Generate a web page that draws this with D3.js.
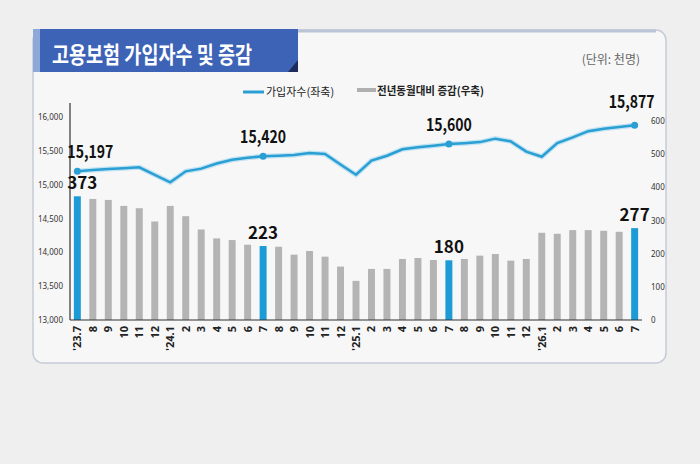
<!DOCTYPE html>
<html>
<head>
<meta charset="utf-8">
<script src="https://cdn.jsdelivr.net/npm/d3@7"></script>
<style>
  body { margin: 0; background: #efefef; }
  svg { display: block; font-family: "Noto Sans CJK KR", "Noto Sans", sans-serif; }
</style>
</head>
<body>
<div id="chart-area"></div>
<script>
// months '23.7 .. '26.7
var months = ["'23.7","8","9","10","11","12","'24.1","2","3","4","5","6","7","8","9","10","11","12",
              "'25.1","2","3","4","5","6","7","8","9","10","11","12","'26.1","2","3","4","5","6","7"];
// 가입자수 (천명, 좌축)
var subscribers = [15197,15217,15232,15242,15257,15146,15035,15197,15237,15312,15368,15398,
                   15420,15428,15439,15469,15454,15297,15146,15357,15428,15523,15553,15575,
                   15600,15613,15629,15680,15640,15489,15413,15614,15700,15790,15826,15851,15877];
// 전년동월대비 증감 (천명, 우축)
var yoyChange = [373,365,362,344,337,297,344,313,273,246,241,227,
                 223,221,197,208,191,161,118,154,154,184,187,181,
                 180,184,194,199,179,184,263,260,271,271,269,266,277];
var highlight = [0, 12, 24, 36];
var leftTicks = [13000,13500,14000,14500,15000,15500,16000];
var rightTicks = [0,100,200,300,400,500,600];

var W = 700, H = 464;
var svg = d3.select('#chart-area').append('svg').attr('width', W).attr('height', H);

svg.append('rect').attr('width', W).attr('height', H).attr('fill', '#efefef');

// panel
svg.append('rect')
  .attr('x', 33).attr('y', 30).attr('width', 633).attr('height', 333)
  .attr('rx', 10)
  .attr('fill', '#f7f7f7')
  .attr('stroke', '#c5ccd8').attr('stroke-width', 1.5);
svg.append('line')
  .attr('x1', 290).attr('x2', 656).attr('y1', 31).attr('y2', 31)
  .attr('stroke', '#b9c4d6').attr('stroke-width', 3);

// title banner
svg.append('rect').attr('x', 33).attr('y', 29).attr('width', 265).attr('height', 43).attr('fill', '#3d63b6');
svg.append('rect').attr('x', 33).attr('y', 29).attr('width', 7).attr('height', 43).attr('fill', '#8ea8da');
svg.append('path').attr('d', 'M288,72 L298,60 L298,72 Z').attr('fill', '#1d2c5a');
svg.append('text')
  .attr('x', 52).attr('y', 63)
  .attr('fill', '#fff').attr('font-size', '23px').attr('font-weight', 'bold')
  .attr('textLength', 200).attr('lengthAdjust', 'spacingAndGlyphs')
  .text('고용보험 가입자수 및 증감');

svg.append('text')
  .attr('x', 640).attr('y', 64).attr('text-anchor', 'end')
  .attr('fill', '#666').attr('font-size', '12px')
  .text('(단위: 천명)');

// legend
svg.append('line').attr('x1', 243).attr('x2', 264).attr('y1', 92).attr('y2', 92)
  .attr('stroke', '#2a9fd4').attr('stroke-width', 3);
svg.append('text').attr('x', 266).attr('y', 96).attr('font-size', '11px').attr('fill', '#222')
  .text('가입자수(좌축)');
svg.append('rect').attr('x', 357).attr('y', 88).attr('width', 19).attr('height', 4).attr('fill', '#b0b0b0');
svg.append('text').attr('x', 377).attr('y', 95).attr('font-size', '11px').attr('fill', '#222')
  .attr('font-weight', 'bold').attr('textLength', 107).attr('lengthAdjust', 'spacingAndGlyphs')
  .text('전년동월대비 증감(우축)');

// scales
var x = d3.scaleBand().domain(d3.range(months.length)).range([70, 642]).paddingInner(0.55).paddingOuter(0.25);
var yL = d3.scaleLinear().domain([13000, 16000]).range([320, 117]);
var yR = d3.scaleLinear().domain([0, 600]).range([320, 121]);
var cx = i => x(i) + x.bandwidth() / 2;

// axes
var leftAxis = svg.append('g').attr('transform', 'translate(68,0)')
  .call(d3.axisLeft(yL).tickValues(leftTicks).tickSize(0).tickPadding(5).tickFormat(d3.format(',')));
leftAxis.select('.domain').remove();
leftAxis.selectAll('text').attr('font-size', '8px').attr('fill', '#333').attr('font-family', '"Noto Sans", sans-serif');

var rightAxis = svg.append('g').attr('transform', 'translate(648,0)')
  .call(d3.axisRight(yR).tickValues(rightTicks).tickSize(0).tickPadding(3));
rightAxis.select('.domain').remove();
rightAxis.selectAll('text').attr('font-size', '8px').attr('fill', '#333').attr('font-family', '"Noto Sans", sans-serif');

// bars
svg.append('g').selectAll('rect').data(yoyChange).enter().append('rect')
  .attr('x', (d, i) => x(i))
  .attr('width', x.bandwidth())
  .attr('y', d => yR(d))
  .attr('height', d => yR(0) - yR(d))
  .attr('fill', (d, i) => highlight.includes(i) ? '#1c9bd7' : '#b4b4b4');

// axis lines
svg.append('line').attr('x1', 70).attr('x2', 70).attr('y1', 103).attr('y2', 320)
  .attr('stroke', '#333').attr('stroke-width', 1.2);
svg.append('line').attr('x1', 70).attr('x2', 642).attr('y1', 320).attr('y2', 320)
  .attr('stroke', '#333').attr('stroke-width', 1.2);

// x labels
svg.append('g').selectAll('text').data(months).enter().append('text')
  .attr('transform', (d, i) => `translate(${cx(i) + 4}, 326) rotate(-90)`)
  .attr('text-anchor', 'end')
  .attr('font-size', '11px').attr('font-weight', 'bold').attr('fill', '#222')
  .attr('font-family', '"Noto Sans", sans-serif')
  .text(d => d);

// line
var line = d3.line().x((d, i) => cx(i)).y(d => yL(d)).curve(d3.curveLinear);
svg.append('path').datum(subscribers)
  .attr('d', line).attr('fill', 'none')
  .attr('stroke', '#9fd6ee').attr('stroke-width', 5).attr('opacity', 0.6);
svg.append('path').datum(subscribers)
  .attr('d', line).attr('fill', 'none')
  .attr('stroke', '#2a9fd4').attr('stroke-width', 2.5);
svg.append('g').selectAll('circle').data(highlight).enter().append('circle')
  .attr('cx', i => cx(i)).attr('cy', i => yL(subscribers[i])).attr('r', 3.5)
  .attr('fill', '#2a9fd4');

// value labels
var fmt = d3.format(',');
svg.append('g').selectAll('text').data(highlight).enter().append('text')
  .attr('x', (i, k) => cx(i) + (k === 0 ? 13 : k === 3 ? -3 : 0))
  .attr('y', (i, k) => yL(subscribers[i]) - (k === 3 ? 17 : 13))
  .attr('text-anchor', 'middle')
  .attr('font-size', '17px').attr('font-weight', 'bold').attr('fill', '#111')
  .attr('textLength', 46).attr('lengthAdjust', 'spacingAndGlyphs')
  .text(i => fmt(subscribers[i]));
svg.append('g').selectAll('text').data(highlight).enter().append('text')
  .attr('x', (i, k) => cx(i) + (k === 0 ? 5 : 0))
  .attr('y', i => yR(yoyChange[i]) - 7)
  .attr('text-anchor', 'middle')
  .attr('font-size', '17px').attr('font-weight', 'bold').attr('fill', '#111')
  .text(i => yoyChange[i]);
</script>
</body>
</html>
